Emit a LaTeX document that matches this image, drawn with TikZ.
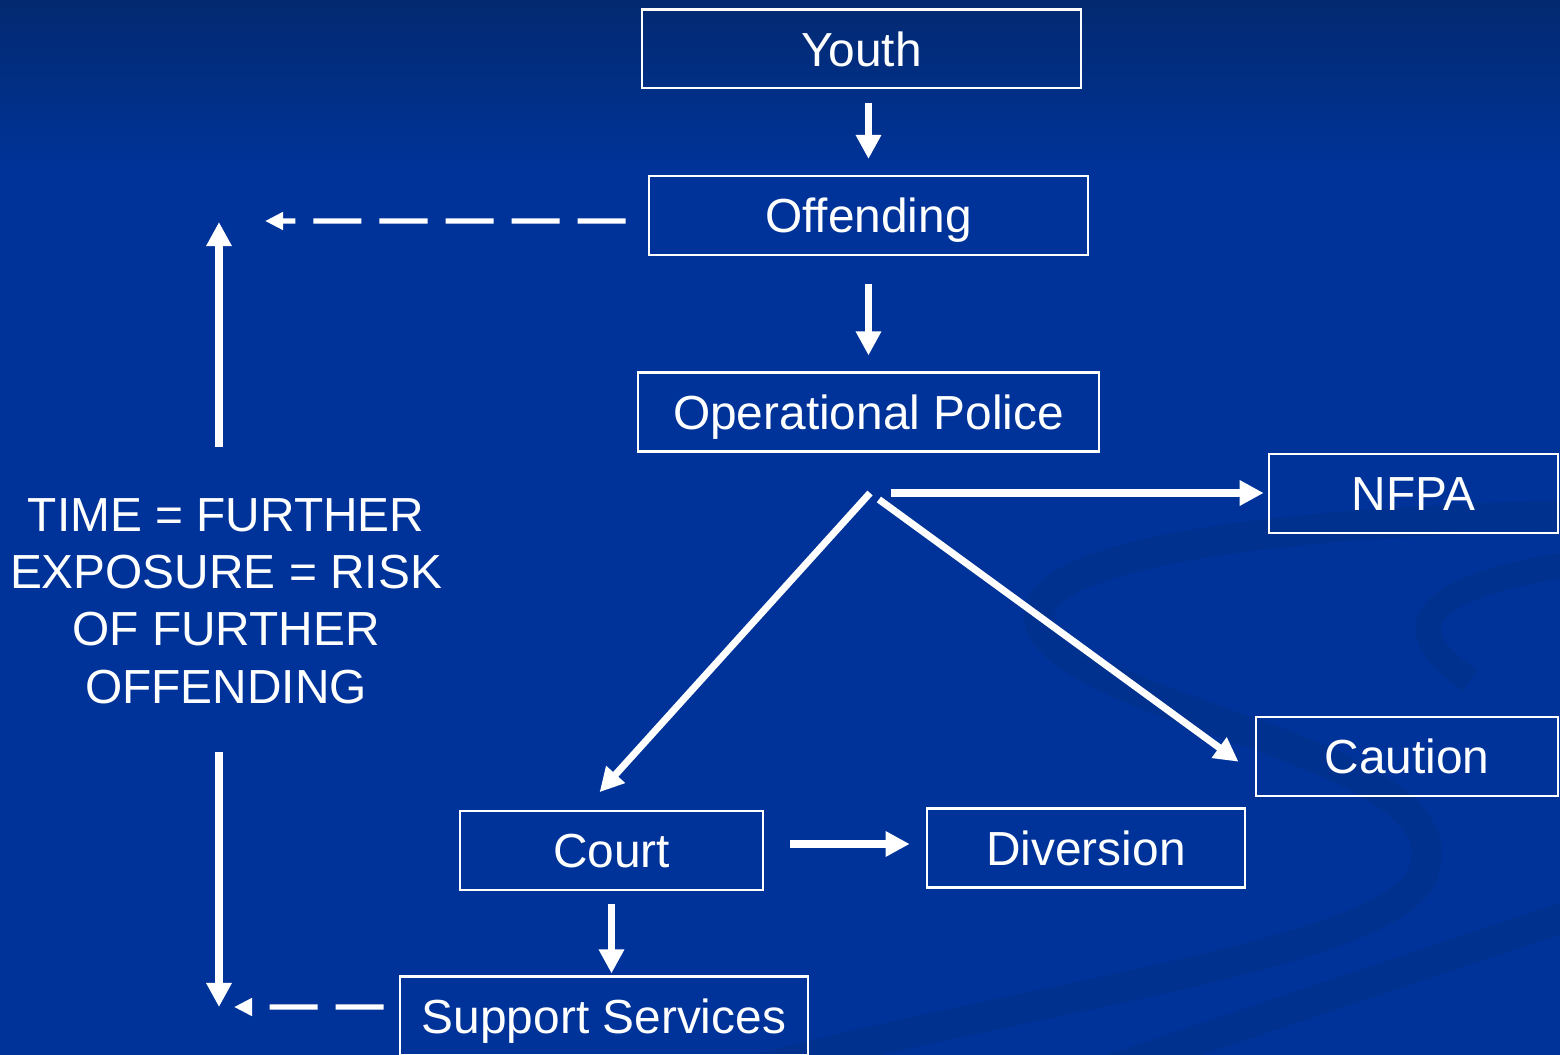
\documentclass[tikz,border=0pt]{standalone}
\usepackage{fontspec}
\setmainfont{Liberation Sans}
\usetikzlibrary{arrows.meta}
\usetikzlibrary{calc}

\definecolor{slideblue}{HTML}{003399}
\definecolor{slidetop}{HTML}{032A70}
\definecolor{swirl}{HTML}{00318F}

\begin{document}
\begin{tikzpicture}[x=0.01cm, y=-0.01cm,
    box/.style={draw=white, line width=0.7pt, text=white, inner sep=0pt,
      minimum height=0.785cm, text height=0.34cm, text depth=0cm,
      font=\fontsize{13.6}{16.3}\selectfont},
    flow/.style={draw=white, line width=2pt,
      -{Triangle[length=0.24cm, width=0.24cm]}},
    back/.style={draw=white, line width=1.5pt, dash pattern=on 0.48cm off 0.18cm,
      -{Triangle[length=0.18cm, width=0.17cm]}}]

    \useasboundingbox (0, 0) rectangle (1560, 1055);
    % background
    \begin{scope}
      \clip (0, 0) rectangle (1560, 1055);
      \fill [slideblue] (0, 0) rectangle (1560, 1055);
      \shade [top color=slidetop, bottom color=slideblue] (0, 0) rectangle (1560, 170);
      \draw [swirl, line width=0.3cm, line cap=round]
        (1600, 515) .. controls (1250, 520) and (980, 560) .. (1050, 640)
        .. controls (1120, 720) and (1480, 760) .. (1420, 880)
        .. controls (1370, 960) and (1000, 1000) .. (720, 1080);
      \draw [swirl, line width=0.25cm]
        (1600, 560) .. controls (1440, 580) and (1380, 620) .. (1470, 680);
      \draw [swirl, line width=0.3cm] (1080, 1080) -- (1600, 905);
    \end{scope}

    % boxes
    \node [box, minimum width=4.39cm] (youth) at (861.5, 49) {Youth};
    \node [box, minimum width=4.39cm] (offend) at (868.5, 215.5) {Offending};
    \node [box, minimum width=4.61cm] (police) at (868.5, 412) {Operational Police};
    \node [box, minimum width=2.89cm] (nfpa) at (1413.5, 493.5) {NFPA};
    \node [box, minimum width=3.02cm] (caution) at (1407, 756.5) {Caution};
    \node [box, minimum width=3.03cm] (court) at (611.5, 850.5) {Court};
    \node [box, minimum width=3.18cm] (div) at (1086, 848) {Diversion};
    \node [box, minimum width=4.08cm] (support) at (604, 1016) {Support Services};
    \node [box, draw=none, align=center, text height=, text depth=] (risk) at (226, 601)
      {TIME = FURTHER\\EXPOSURE = RISK\\OF FURTHER\\OFFENDING};

    \coordinate (split) at (870, 493);
    \coordinate (topcorner) at (219, 221);
    \coordinate (botcorner) at (219, 1007);

    % main flow
    \draw [flow, shorten <=0.13cm, shorten >=0.16cm] (youth.south -| offend.north) -- (offend.north);
    \draw [flow, shorten <=0.28cm, shorten >=0.16cm] (offend.south) -- (police.north);
    \draw [flow, shorten <=0.21cm, shorten >=0.04cm] (split) -- (split -| nfpa.west);
    \draw [flow, shorten >=0.24cm] (split) -- ([xshift=-0.28cm]court.north);
    \draw [flow, shorten <=0.11cm, shorten >=0.2cm] (split) -- ([yshift=-0.17cm]caution.west);
    \draw [flow, shorten <=0.26cm, shorten >=0.16cm]
      ([yshift=0.065cm]court.east) -- ([yshift=0.065cm]court.east -| div.west);
    \draw [flow, shorten <=0.13cm, shorten >=0.02cm] (court.south) -- (court.south |- support.north);

    % loop back
    \draw [back, shorten <=0.22cm, shorten >=0.46cm] ([yshift=-0.055cm]offend.west) -- (topcorner);
    \draw [flow, shorten <=0.5cm, shorten >=0.01cm] (risk.north -| topcorner) -- (topcorner);
    \draw [flow, shorten <=0.47cm] (risk.south -| botcorner) -- (botcorner);
    \draw [back, shorten <=0.15cm, shorten >=0.15cm] ([yshift=0.09cm]support.west) -- (botcorner);

  \end{tikzpicture}
\end{document}
